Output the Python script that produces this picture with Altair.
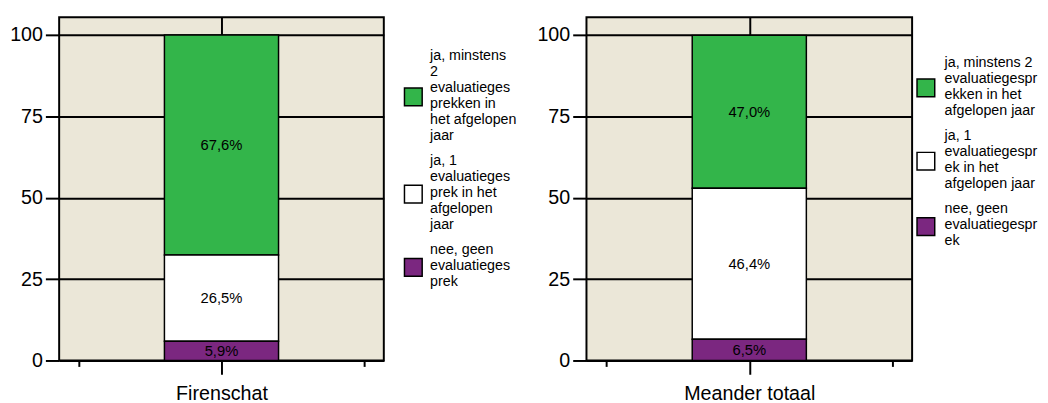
import altair as alt
import pandas as pd

panels = ["Firenschat", "Meander totaal"]
categories = [
    "ja, minstens 2 evaluatiegesprekken in het afgelopen jaar",
    "ja, 1 evaluatiegesprek in het afgelopen jaar",
    "nee, geen evaluatiegesprek",
]
stack_rank = [2, 1, 0]
firenschat_pct = [67.6, 26.5, 5.9]
meander_pct = [47.0, 46.4, 6.5]
colors = ["#33B54A", "#FFFFFF", "#7B2780"]

legend_lines_firenschat = [
    ["ja, minstens", "2", "evaluatieges", "prekken in", "het afgelopen", "jaar"],
    ["ja, 1", "evaluatieges", "prek in het", "afgelopen", "jaar"],
    ["nee, geen", "evaluatieges", "prek"],
]
legend_lines_meander = [
    ["ja, minstens 2", "evaluatiegespr", "ekken in het", "afgelopen jaar"],
    ["ja, 1", "evaluatiegespr", "ek in het", "afgelopen jaar"],
    ["nee, geen", "evaluatiegespr", "ek"],
]
y_ticks = [0, 25, 50, 75, 100]
x_ticks = [-1, 0, 1]

FONT = "Liberation Sans"
PLOT_H = 349
LINE_H = 16.2
LEGEND_FS = 14.5

color_scale = alt.Scale(domain=categories, range=colors)


def panel(name, values, width):
    df = pd.DataFrame(
        {"panel": name, "antwoord": categories, "pct": values, "rank": stack_rank}
    )
    base = alt.Chart(df).transform_stack(
        stack="pct",
        groupby=["panel"],
        as_=["y0", "y1"],
        sort=[alt.SortField("rank", order="ascending")],
    ).transform_calculate(
        mid="(datum.y0 + datum.y1) / 2",
        label="replace(format(datum.pct, '.1f'), '.', ',') + '%'",
    )
    x = alt.XDatum(
        0,
        type="quantitative",
        scale=alt.Scale(domain=[-1.1, 1.1], nice=False, zero=False),
        axis=alt.Axis(
            values=x_ticks,
            title=None,
            labelExpr=f"datum.value === 0 ? '{name}' : ''",
            grid=True,
            gridColor="black",
            gridWidth=2,
            gridOpacity={"condition": {"test": "datum.value === 0", "value": 1}, "value": 0},
            tickSize={"condition": {"test": "datum.value === 0", "value": 14}, "value": 6},
            tickWidth=2,
            tickColor="black",
            domain=False,
            labelFontSize=20,
            labelFont=FONT,
            labelColor="black",
            labelPadding=10,
        ),
    )
    y = alt.Y(
        "y0:Q",
        scale=alt.Scale(domain=[0, 105.5], nice=False),
        axis=alt.Axis(
            values=y_ticks,
            title=None,
            grid=True,
            gridColor="black",
            gridWidth=2,
            tickSize=14,
            tickWidth=2,
            tickColor="black",
            domain=False,
            labelFontSize=20,
            labelFont=FONT,
            labelColor="black",
            labelPadding=3,
        ),
    )
    bars = base.mark_bar(size=116, stroke="black", strokeWidth=1.5).encode(
        x=x, y=y, y2="y1:Q",
        color=alt.Color("antwoord:N", scale=color_scale, legend=None),
    )
    texts = base.mark_text(fontSize=15, font=FONT, color="black").encode(
        x=x, y=alt.Y("mid:Q"), text="label:N"
    )
    return alt.layer(bars, texts).properties(width=width, height=PLOT_H)


def legend_panel(lines, start, gap, width, sym_x, text_x):
    ldf = pd.DataFrame(
        {
            "antwoord": categories,
            "text": ["|".join(l) for l in lines],
            "n": [len(l) for l in lines],
            "idx": list(range(len(categories))),
        }
    )
    base = alt.Chart(ldf).transform_window(
        cum="sum(n)", sort=[alt.SortField("idx")], frame=[None, 0]
    ).transform_calculate(
        top=f"{start} + datum.cum - datum.n + {gap} * datum.idx",
        mid="datum.top + datum.n / 2",
    )
    yscale = alt.Scale(domain=[0, PLOT_H / LINE_H], reverse=True, nice=False, zero=False)
    sym = base.mark_square(size=324, stroke="black", strokeWidth=1.5, opacity=1).encode(
        x=alt.value(sym_x),
        y=alt.Y("mid:Q", scale=yscale, axis=None),
        color=alt.Color("antwoord:N", scale=color_scale, legend=None),
    )
    txt = base.mark_text(
        align="left", baseline="top", lineBreak="|", lineHeight=LINE_H,
        fontSize=LEGEND_FS, font=FONT, color="black",
    ).encode(
        x=alt.value(text_x),
        y=alt.Y("top:Q", scale=yscale, axis=None),
        text="text:N",
    )
    return alt.layer(sym, txt).properties(
        width=width, height=PLOT_H,
        view=alt.ViewBackground(fill="transparent", stroke="transparent"),
    )


left = alt.hconcat(
    panel(panels[0], firenschat_pct, 330),
    legend_panel(legend_lines_firenschat, 2.0, 0.6, 116, 9, 26),
    spacing=16,
).resolve_scale(y="independent", x="independent")
right = alt.hconcat(
    panel(panels[1], meander_pct, 331),
    legend_panel(legend_lines_meander, 2.44, 0.6, 122, 7, 26),
    spacing=0,
).resolve_scale(y="independent", x="independent")

chart = (
    alt.hconcat(left, right, spacing=16)
    .resolve_scale(y="independent", x="independent")
    .properties(padding={"left": 0, "top": 5, "right": 0, "bottom": 0})
    .configure_view(fill="#EBE7D8", stroke="black", strokeWidth=2)
)

chart.save("out.html", embed_options={"renderer": "svg", "actions": False})
